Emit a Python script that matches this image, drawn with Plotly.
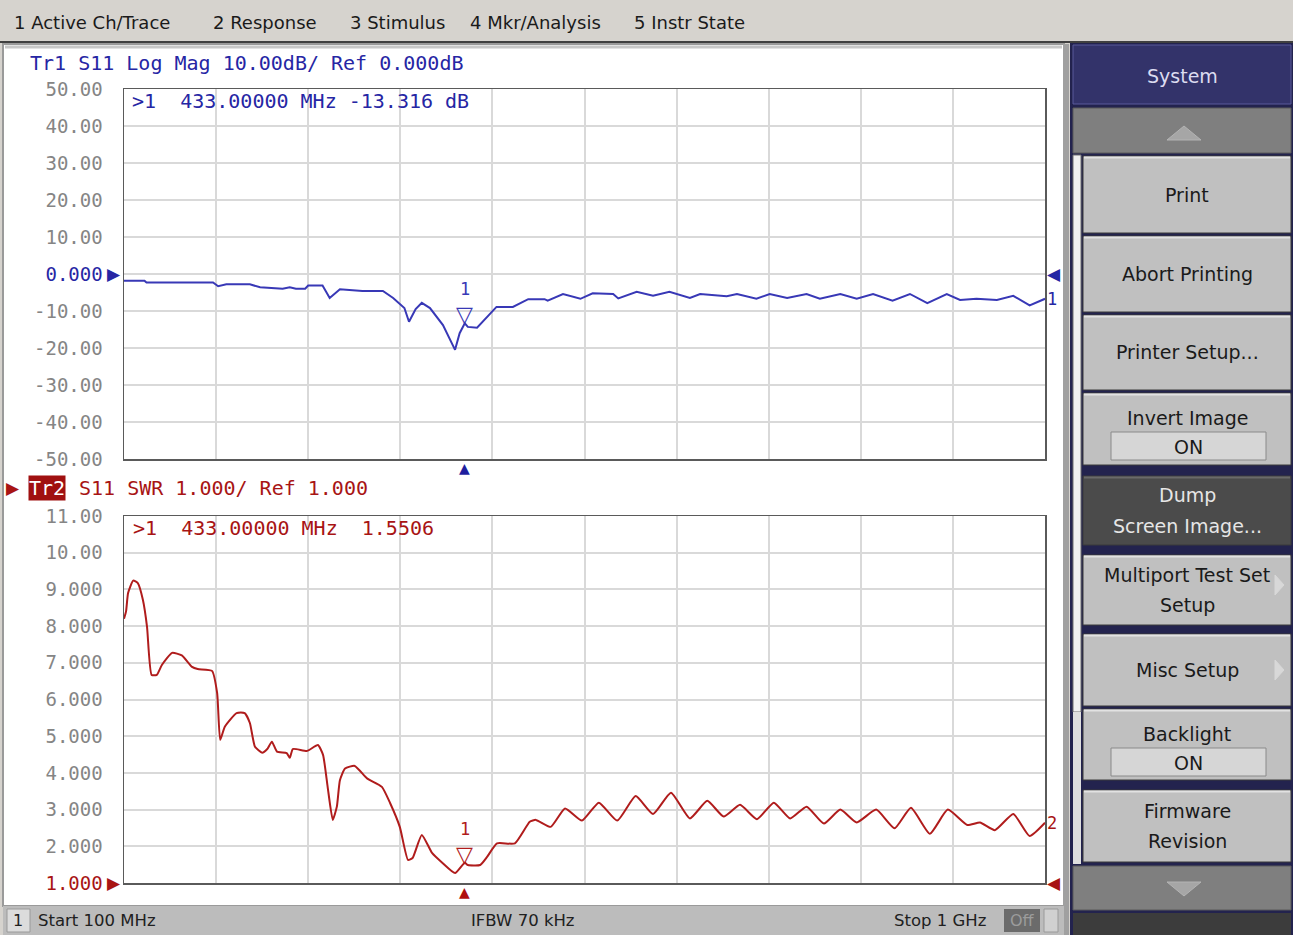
import plotly.graph_objects as go

W, H = 1293, 935
MONO = "DejaVu Sans Mono"
UI = "DejaVu Sans"
BLUE = "#2626a4"
TRACE_BLUE = "#3838b6"
RED = "#a81414"
TRACE_RED = "#b01c1c"
GRID = "#d9d9d9"
GRAY_TXT = "#858585"

# ---------------- data ----------------
freq_tr1 = [100, 120, 122, 187, 192, 200, 223, 233, 255, 262, 268, 277, 280, 294,
            301, 311, 333, 353, 363, 374, 378.5, 385, 391, 399, 411.7, 423.5, 428,
            433, 436, 445, 464, 480, 495, 511, 514, 529, 546, 558, 578, 583, 601,
            617, 633, 653, 663, 689, 699, 718, 731, 748, 767, 780, 800, 816, 832,
            851, 868, 885, 904, 917, 933, 953, 969, 985, 1000]
s11_logmag = [-1.8, -1.8, -2.3, -2.3, -3.3, -2.8, -2.8, -3.6, -4.0, -3.6, -4.0, -4.0,
              -3.1, -3.1, -6.5, -4.1, -4.6, -4.6, -6.5, -9.2, -12.9, -9.5, -7.8, -9.2,
              -13.8, -20.5, -16.0, -13.316, -14.3, -14.5, -8.9, -8.9, -6.8, -6.8, -7.2,
              -5.4, -6.7, -5.2, -5.4, -6.6, -4.8, -5.9, -4.8, -6.5, -5.4, -6.0, -5.4,
              -6.7, -5.4, -6.5, -5.4, -6.7, -5.4, -6.7, -5.4, -7.2, -5.4, -7.9, -5.4,
              -7.0, -6.7, -7.0, -5.9, -8.5, -6.7]

freq_tr2 = [100, 102, 104, 109, 113.5, 118.5, 122.5, 127, 132, 137, 147, 156.5, 166.5,
            172, 186, 191, 194, 198.5, 210, 218, 223, 228, 235, 240, 244.5, 249.5, 259,
            262, 265, 279, 289.5, 294.5, 299, 304, 308, 311, 316, 325.5, 337.5, 352,
            360, 369.5, 377.5, 382, 391, 401, 411.5, 423.5, 433, 436, 448, 455, 464.5,
            482, 496.5, 502.5, 517, 531, 547.5, 564, 582, 600, 617, 634.5, 653, 670,
            686, 702, 718.5, 735, 751, 767, 784, 800, 816, 835, 853, 869, 887.5, 905,
            924, 936.5, 951, 969, 985, 1000]
s11_swr = [8.2, 8.4, 8.9, 9.24, 9.17, 8.71, 7.98, 6.67, 6.67, 6.94, 7.27, 7.2, 6.89,
           6.83, 6.78, 6.18, 4.9, 5.26, 5.63, 5.63, 5.36, 4.71, 4.55, 4.65, 4.85, 4.58,
           4.54, 4.41, 4.65, 4.6, 4.76, 4.49, 3.62, 2.72, 3.08, 3.8, 4.12, 4.19, 3.85,
           3.62, 3.18, 2.53, 1.63, 1.68, 2.31, 1.82, 1.54, 1.27, 1.5506, 1.49, 1.49,
           1.72, 2.08, 2.08, 2.67, 2.72, 2.53, 3.03, 2.7, 3.19, 2.7, 3.37, 2.88, 3.46,
           2.76, 3.24, 2.81, 3.13, 2.74, 3.19, 2.76, 3.08, 2.62, 3.0, 2.65, 3.0, 2.49,
           3.05, 2.34, 3.0, 2.58, 2.65, 2.44, 2.88, 2.28, 2.64]

marker_freq = [433]
marker_logmag = [-13.316]
marker_swr = [1.5506]

x_ticks = [100, 190, 280, 370, 460, 550, 640, 730, 820, 910, 1000]
y1_ticks = [50, 40, 30, 20, 10, 0, -10, -20, -30, -40, -50]
y1_labels = ["50.00", "40.00", "30.00", "20.00", "10.00", "0.000",
             "-10.00", "-20.00", "-30.00", "-40.00", "-50.00"]
y2_ticks = [11, 10, 9, 8, 7, 6, 5, 4, 3, 2, 1]
y2_labels = ["11.00", "10.00", "9.000", "8.000", "7.000", "6.000",
             "5.000", "4.000", "3.000", "2.000", "1.000"]
ref1, ref2 = 0, 1

tr1_header = "Tr1 S11 Log Mag 10.00dB/ Ref 0.000dB"
tr2_tag = "Tr2"
tr2_header = "S11 SWR 1.000/ Ref 1.000"
tr1_readout = ">1  433.00000 MHz -13.316 dB"
tr2_readout = ">1  433.00000 MHz  1.5506"

menu_items = ["1 Active Ch/Trace", "2 Response", "3 Stimulus", "4 Mkr/Analysis", "5 Instr State"]
menu_x = [12, 211, 348, 468, 632]

status_start = "Start 100 MHz"
status_ifbw = "IFBW 70 kHz"
status_stop = "Stop 1 GHz"

# ---------------- helpers ----------------
def X(p):
    return p / W


def Y(p):
    return 1 - p / H


shapes = []
annotations = []


def rect(x0, y0, x1, y1, fill, line=None, lw=0):
    shapes.append(dict(type="rect", xref="paper", yref="paper",
                       x0=X(x0), x1=X(x1), y0=Y(y1), y1=Y(y0),
                       fillcolor=fill, layer="below",
                       line=dict(color=line or fill, width=lw)))


def hline(x0, x1, y, color, lw=1):
    shapes.append(dict(type="line", xref="paper", yref="paper",
                       x0=X(x0), x1=X(x1), y0=Y(y), y1=Y(y),
                       line=dict(color=color, width=lw), layer="below"))


def vline(x, y0, y1, color, lw=1):
    shapes.append(dict(type="line", xref="paper", yref="paper",
                       x0=X(x), x1=X(x), y0=Y(y0), y1=Y(y1),
                       line=dict(color=color, width=lw), layer="below"))


def tri(pts, fill, line):
    d = "M " + " L ".join("%f,%f" % (X(a), Y(b)) for a, b in pts) + " Z"
    shapes.append(dict(type="path", xref="paper", yref="paper", path=d,
                       fillcolor=fill, line=dict(color=line, width=1), layer="below"))


def text(t, x, y, size, color, font=UI, xanchor="left", yanchor="middle", **kw):
    annotations.append(dict(text=t, x=X(x), y=Y(y), xref="paper", yref="paper",
                            showarrow=False, xanchor=xanchor, yanchor=yanchor,
                            font=dict(family=font, size=size, color=color), **kw))


def dtext(t, x, y, xr, yr, size, color, font=MONO, xanchor="center", yanchor="middle", **kw):
    annotations.append(dict(text=t, x=x, y=y, xref=xr, yref=yr, showarrow=False,
                            xanchor=xanchor, yanchor=yanchor,
                            font=dict(family=font, size=size, color=color), **kw))


# ---------------- window chrome ----------------
rect(0, 0, W, 41, "#d6d3ce")
hline(0, W, 42, "#404040", 2)
# chart area
rect(3, 44, 1064, 906, "#ffffff", "#9a9a9a", 2)
hline(5, 1062, 47, "#c8c8c8", 3)
vline(1066, 44, 935, "#a0a0a0", 6)
# status bar
rect(3, 906, 1064, 935, "#bcbcbc")
rect(7, 909, 30, 932, "#dcdcdc", "#9a9a9a", 1)
rect(1004, 909, 1040, 932, "#6b6b6b")
rect(1044, 909, 1058, 932, "#d0d0d0", "#9a9a9a", 1)
text("1", 18, 920, 16, "#202020", xanchor="center")
text(status_start, 36, 920, 16.5, "#202020")
text(status_ifbw, 523, 920, 16.5, "#202020", xanchor="center")
text(status_stop, 988, 920, 16.5, "#202020", xanchor="right")
text("Off", 1022, 920, 16, "#9c9c9c", xanchor="center")

# menu bar
for m, mx in zip(menu_items, menu_x):
    text(m, mx, 22, 18, "#1a1a1a")

# right softkey panel
rect(1070, 43, W, 935, "#23234e")
rect(1073, 45, 1291, 104, "#33336a", "#5a5a9a", 1)
text("System", 1182, 76, 19, "#dcdcf0", xanchor="center")
rect(1073, 108, 1291, 153, "#7f7f7f", "#5a5a5a", 1)
tri([(1167, 140), (1184, 126), (1201, 140)], "#a6a6a6", "#b4b4b4")
rect(1073, 155, 1081, 712, "#efefef", "#707070", 1)
rect(1073, 712, 1081, 864, "#dedede")

buttons = [
    (156, 233, ["Print"], None, False),
    (236, 312, ["Abort Printing"], None, False),
    (315, 390, ["Printer Setup..."], None, False),
    (393, 465, ["Invert Image"], "ON", False),
    (476, 545, ["Dump", "Screen Image..."], None, True),
    (555, 625, ["Multiport Test Set", "Setup"], "arrow", False),
    (634, 706, ["Misc Setup"], "arrow", False),
    (709, 780, ["Backlight"], "ON", False),
    (790, 862, ["Firmware", "Revision"], None, False),
]
for y0, y1, lines, extra, dark in buttons:
    fill = "#4b4b4b" if dark else "#c0c0c0"
    rect(1083, y0, 1291, y1, fill, "#3a3a3a", 1)
    hline(1084, 1290, y0 + 1.5, "#6a6a6a" if dark else "#e2e2e2", 2)
    col = "#e6e6e6" if dark else "#1a1a1a"
    cy = (y0 + y1) / 2
    if extra == "ON":
        text(lines[0], 1187, y0 + 25, 19, col, xanchor="center")
        rect(1111, y0 + 39, 1266, y0 + 67, "#d6d6d6", "#8a8a8a", 1)
        text("ON", 1188, y0 + 54, 19, col, xanchor="center")
    elif len(lines) == 2:
        text(lines[0], 1187, cy - 15, 19, col, xanchor="center")
        text(lines[1], 1187, cy + 15, 19, col, xanchor="center")
    else:
        text(lines[0], 1187, cy, 19, col, xanchor="center")
    if extra == "arrow":
        ay = cy if len(lines) == 1 else cy - 5
        tri([(1275, ay - 10), (1284, ay), (1275, ay + 10)], "#d8d8d8", "#d8d8d8")

rect(1073, 866, 1291, 910, "#7f7f7f", "#5a5a5a", 1)
tri([(1167, 882), (1184, 896), (1201, 882)], "#a6a6a6", "#b4b4b4")
rect(1073, 913, 1291, 935, "#3c3c3c")

# ---------------- chart ----------------
fig = go.Figure()
fig.add_trace(go.Scatter(x=freq_tr1, y=s11_logmag, mode="lines", xaxis="x", yaxis="y",
                         line=dict(color=TRACE_BLUE, width=2), hoverinfo="skip"))
fig.add_trace(go.Scatter(x=freq_tr2, y=s11_swr, mode="lines", xaxis="x2", yaxis="y2",
                         line=dict(color=TRACE_RED, width=2, shape="spline", smoothing=0.5),
                         hoverinfo="skip"))


def tick_text(labels, ticks, ref, color):
    return ["<span style='color:%s'>%s</span>" % (color, l) if t == ref else l
            for l, t in zip(labels, ticks)]


xdom = [X(124), X(1045)]
ax_common = dict(showgrid=True, gridcolor=GRID, gridwidth=2, zeroline=False,
                 showline=True, linecolor="#5a5a5a", linewidth=1.5, mirror=True,
                 ticks="", fixedrange=True, automargin=False)
fig.update_layout(
    template="none",
    width=W, height=H, autosize=False, margin=dict(l=0, r=0, t=0, b=0, pad=0),
    paper_bgcolor="#d6d3ce", plot_bgcolor="#ffffff", showlegend=False,
    xaxis=dict(domain=xdom, range=[100, 1000], tickvals=x_ticks, showticklabels=False,
               anchor="y", **ax_common),
    yaxis=dict(domain=[Y(459), Y(89)], range=[-50, 50], tickvals=y1_ticks,
               ticktext=tick_text(y1_labels, y1_ticks, ref1, BLUE), anchor="x",
               tickfont=dict(family=MONO, size=19, color=GRAY_TXT),
               ticklabelstandoff=16, **ax_common),
    xaxis2=dict(domain=xdom, range=[100, 1000], tickvals=x_ticks, showticklabels=False,
                anchor="y2", **ax_common),
    yaxis2=dict(domain=[Y(883), Y(516)], range=[1, 11], tickvals=y2_ticks,
                ticktext=tick_text(y2_labels, y2_ticks, ref2, RED), anchor="x2",
                tickfont=dict(family=MONO, size=19, color=GRAY_TXT),
                ticklabelstandoff=16, **ax_common),
)

# headers and readouts
text(tr1_header, 28, 63, 20, BLUE, font=MONO)
text("▶", 22, 488, 17, RED, font="DejaVu Sans", xanchor="right")
text(tr2_tag, 28, 488, 20, "#ffffff", font=MONO, bgcolor="#a01010", borderpad=0)
text(tr2_header, 77, 488, 20, RED, font=MONO)
text(tr1_readout, 130, 101, 20, BLUE, font=MONO)
text(tr2_readout, 131, 528, 20, RED, font=MONO)

# reference level indicators
dtext("▶", 100, ref1, "x", "y", 17, BLUE, font="DejaVu Sans", xanchor="right", xshift=-1)
dtext("◀", 1000, ref1, "x", "y", 17, BLUE, font="DejaVu Sans", xanchor="left", xshift=0)
dtext("▶", 100, ref2, "x2", "y2", 17, RED, font="DejaVu Sans", xanchor="right", xshift=-1)
dtext("◀", 1000, ref2, "x2", "y2", 17, RED, font="DejaVu Sans", xanchor="left", xshift=0)
dtext("1", 1000, s11_logmag[-1], "x", "y", 17, BLUE, xanchor="left", xshift=0)
dtext("2", 1000, s11_swr[-1], "x2", "y2", 17, RED, xanchor="left", xshift=0)

# markers
for f, v in zip(marker_freq, marker_logmag):
    dtext("▽", f, v, "x", "y", 22, TRACE_BLUE, font="DejaVu Sans", yanchor="bottom", yshift=-6)
    dtext("1", f, v, "x", "y", 17, TRACE_BLUE, yanchor="bottom", yshift=22)
    dtext("▲", f, -50, "x", "y", 14, "#1e1e9e", font="DejaVu Sans", yanchor="top", yshift=1)
for f, v in zip(marker_freq, marker_swr):
    dtext("▽", f, v, "x2", "y2", 22, TRACE_RED, font="DejaVu Sans", yanchor="bottom", yshift=-6)
    dtext("1", f, v, "x2", "y2", 17, TRACE_RED, yanchor="bottom", yshift=22)
    dtext("▲", f, 1, "x2", "y2", 14, "#b01010", font="DejaVu Sans", yanchor="top", yshift=1)

fig.update_layout(shapes=shapes, annotations=annotations)
fig.write_html("out.html", config={"displayModeBar": False, "staticPlot": True},
               post_script="document.body.style.margin='0';document.body.style.overflow='hidden';")
